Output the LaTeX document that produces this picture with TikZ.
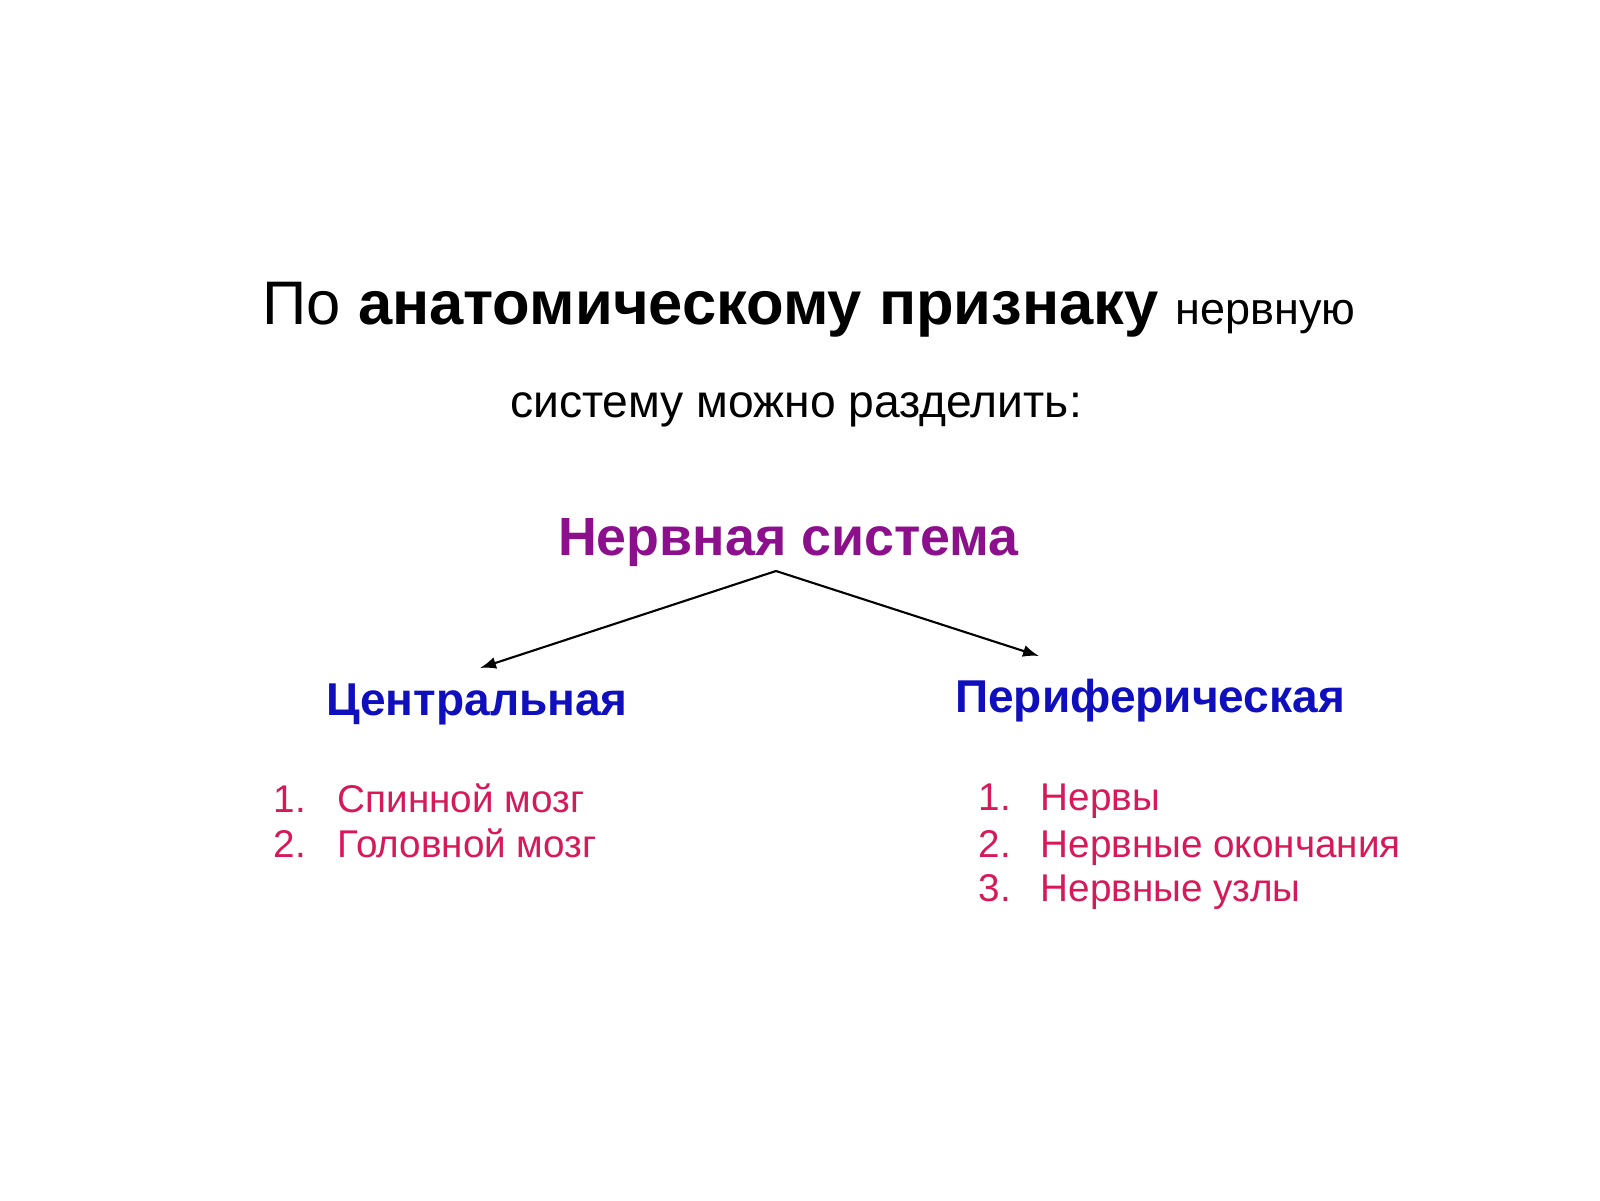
\documentclass[tikz,border=0pt]{standalone}
\usepackage{fontspec}
\setmainfont{Liberation Sans}
\usetikzlibrary{arrows.meta}
\definecolor{nsPurple}{RGB}{140,15,140}
\definecolor{nsBlue}{RGB}{15,15,190}
\definecolor{nsRed}{RGB}{215,25,90}
\begin{document}
\begin{tikzpicture}[
    every node/.style={inner sep=0pt},
    lead/.style={anchor=base, font=\fontsize{17.5}{20}\selectfont},
    lead2/.style={anchor=base, font=\fontsize{13.15}{15}\selectfont},
    root/.style={anchor=base, text=nsPurple, font=\fontsize{15.3}{18}\selectfont\bfseries},
    branch/.style={anchor=base, text=nsBlue, font=\fontsize{13.1}{15}\selectfont\bfseries},
    item/.style={anchor=base west, text=nsRed, font=\fontsize{11}{14}\selectfont},
    link/.style={-{Latex[length=1.6mm,width=1.2mm]}, line width=0.6pt}
  ]
  \useasboundingbox (0,0) rectangle (16,12);
  \node[lead] (head1) at (8.09,8.75)
    {По {\bfseries анатомическому признаку} {\fontsize{12.8}{14}\selectfont нервную}};
  \node[lead2] (head2) at (7.96,7.83) {систему можно разделить:};
  \node[root] (ns) at (7.885,6.45) {Нервная система};
  \node[branch] (central) at (4.77,4.85) {Центральная};
  \node[branch] (periph) at (11.50,4.88) {Периферическая};
  % central part
  \node[item] (c1n) at (2.73,3.88) {1.};
  \node[item] (c1) at (3.37,3.88) {Спинной мозг};
  \node[item] (c2n) at (2.73,3.43) {2.};
  \node[item] (c2) at (3.37,3.43) {Головной мозг};
  % peripheral part
  \node[item] (p1n) at (9.78,3.90) {1.};
  \node[item] (p1) at (10.40,3.90) {Нервы};
  \node[item] (p2n) at (9.78,3.43) {2.};
  \node[item] (p2) at (10.40,3.43) {Нервные окончания};
  \node[item] (p3n) at (9.78,2.99) {3.};
  \node[item] (p3) at (10.40,2.99) {Нервные узлы};
  \coordinate (fork) at (7.76,6.29);
  \coordinate (ctip) at (4.80,5.32);
  \coordinate (ptip) at (10.39,5.44);
  \draw[link] (fork) -- (ctip);
  \draw[link] (fork) -- (ptip);
\end{tikzpicture}
\end{document}
